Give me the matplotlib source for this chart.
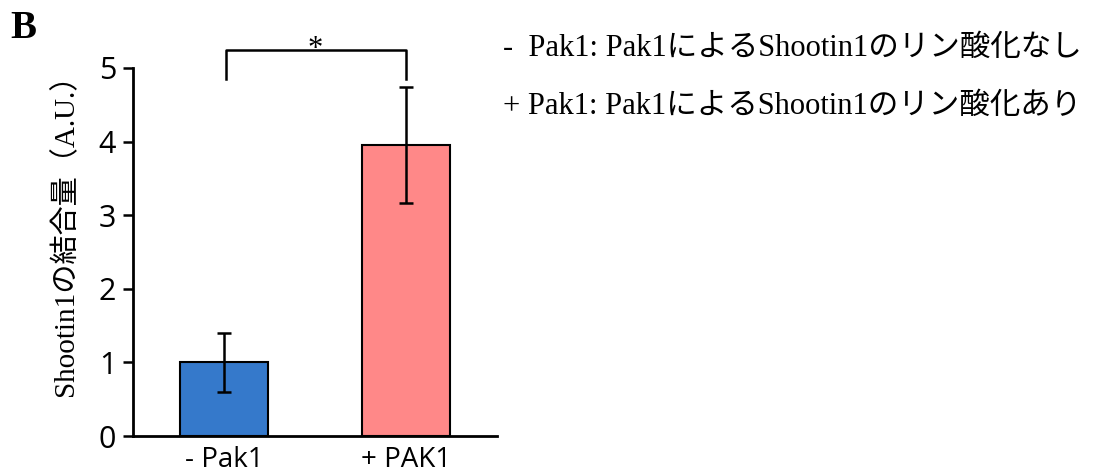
import matplotlib
matplotlib.use("Agg")
import matplotlib.pyplot as plt

# Data
categories = ["- Pak1", "+ PAK1"]
values = [1.0, 3.95]
errors = [0.40, 0.79]
colors = ["#3579CB", "#FF8888"]
yticks = [0, 1, 2, 3, 4, 5]
ylabel = "Shootin1の結合量（A.U.）"
notes = ["-  Pak1: Pak1によるShootin1のリン酸化なし",
         "+ Pak1: Pak1によるShootin1のリン酸化あり"]

serif_jp = ["Liberation Serif", "Noto Sans CJK JP"]
sans = ["Open Sans", "DejaVu Sans"]

fig = plt.figure(figsize=(10.94, 4.75), dpi=100)
ax = fig.add_axes([133 / 1094, 39 / 475, 364 / 1094, 368 / 475])

x = list(range(len(categories)))
ax.bar(x, values, width=0.485, color=colors, edgecolor="black", linewidth=1.5, zorder=2)
ax.errorbar(x, values, yerr=errors, fmt="none", ecolor="black",
            elinewidth=1.8, capsize=5, capthick=1.8, zorder=3)

ax.set_xlim(-0.5, 1.5)
ax.set_ylim(0, 5)
ax.set_yticks(yticks)
ax.set_xticks(x)
ax.set_xticklabels(categories, family=sans, fontsize=20)
for lab in ax.get_yticklabels():
    lab.set_family(sans)
    lab.set_fontsize(22)
ax.tick_params(axis="y", direction="out", length=7, width=1.8, pad=5)
ax.tick_params(axis="x", length=0, pad=7)
for s in ["top", "right"]:
    ax.spines[s].set_visible(False)
for s in ["left", "bottom"]:
    ax.spines[s].set_linewidth(2)

ax.set_ylabel(ylabel, family=serif_jp, fontsize=21)
ax.yaxis.set_label_coords(-0.148, 0.565)

# significance bracket
ax.plot([0.01, 0.01, 1.0, 1.0], [4.85, 5.24, 5.24, 4.85], color="black",
        linewidth=1.8, clip_on=False)
ax.text(0.5, 5.06, "*", ha="center", va="bottom", fontsize=22,
        family=serif_jp)

# panel letter and notes
fig.text(10 / 1094, 1 - 10 / 475, "B", family="Liberation Serif",
         fontweight="bold", fontsize=28, va="top", ha="left")
fig.text(503 / 1094, 1 - 48 / 475, notes[0], family=serif_jp, fontsize=22, va="center")
fig.text(503 / 1094, 1 - 106 / 475, notes[1], family=serif_jp, fontsize=22, va="center")

fig.savefig("out.png", dpi=100)
